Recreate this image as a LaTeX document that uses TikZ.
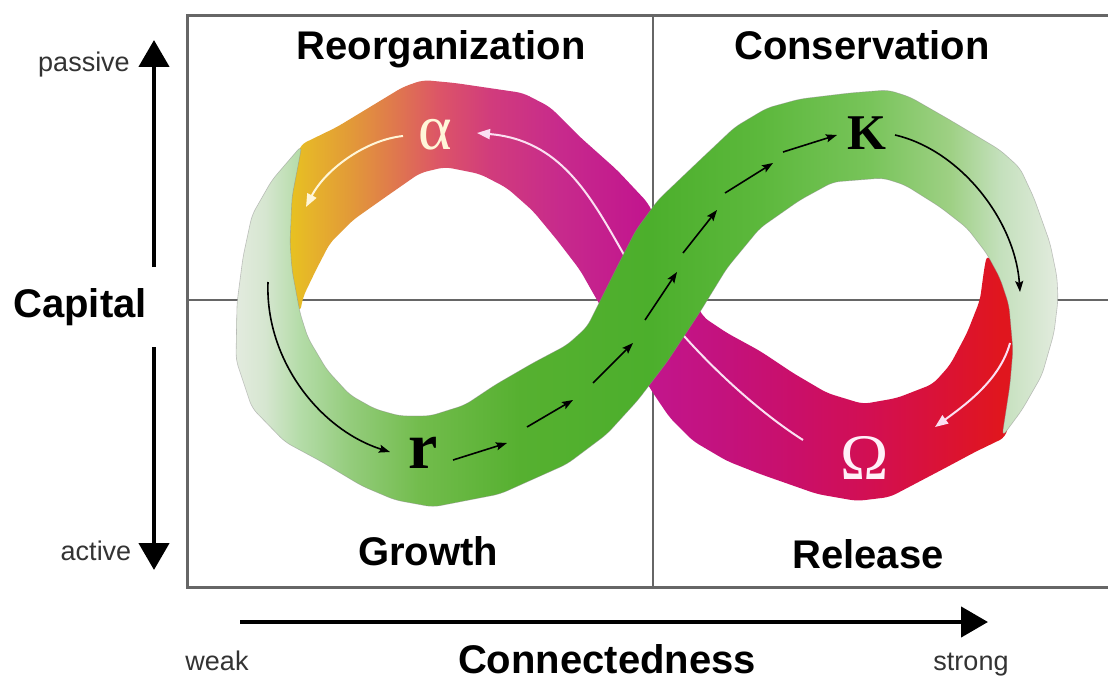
\documentclass[tikz,border=0pt]{standalone}
\usepackage{fontspec}
\setmainfont{Liberation Sans}
\newfontfamily\serifr{Liberation Serif}
\usetikzlibrary{arrows.meta}
% purple/red band colours (left to right)
\definecolor{p01}{HTML}{E8C81C}
\definecolor{p02}{HTML}{E6B42A}
\definecolor{p03}{HTML}{E29A38}
\definecolor{p04}{HTML}{DF7450}
\definecolor{p05}{HTML}{DC5468}
\definecolor{p06}{HTML}{D13C7C}
\definecolor{p07}{HTML}{C72A8C}
\definecolor{p08}{HTML}{C2168E}
\definecolor{p09}{HTML}{C3127E}
\definecolor{p10}{HTML}{CA0F68}
\definecolor{p11}{HTML}{D20F52}
\definecolor{p12}{HTML}{DA1236}
\definecolor{p13}{HTML}{E0161E}
\definecolor{p14}{HTML}{E0161E}
% green band colours (left to right)
\definecolor{g01}{HTML}{E6ECE2}
\definecolor{g02}{HTML}{D6E6D0}
\definecolor{g03}{HTML}{B4DCA8}
\definecolor{g04}{HTML}{94CC7C}
\definecolor{g05}{HTML}{72BC4C}
\definecolor{g06}{HTML}{56B030}
\definecolor{g07}{HTML}{4CAF2C}
\definecolor{g08}{HTML}{5CB83C}
\definecolor{g09}{HTML}{78C45A}
\definecolor{g10}{HTML}{9ED084}
\definecolor{g11}{HTML}{C4E0BC}
\definecolor{g12}{HTML}{E4ECE0}
\definecolor{framegray}{HTML}{666666}
\definecolor{textgray}{HTML}{333333}
\definecolor{pinkwhite}{HTML}{FBE0F2}
\definecolor{omegawhite}{HTML}{FFF0F8}
\definecolor{creamwhite}{HTML}{FFF6D8}
\pgfdeclarehorizontalshading{pshade}{100bp}{color(0bp)=(p01); color(25bp)=(p01); color(26.92bp)=(p02); color(29.49bp)=(p03); color(32.69bp)=(p04); color(35.26bp)=(p05); color(38.46bp)=(p06); color(42.95bp)=(p07); color(48.08bp)=(p08); color(53.21bp)=(p09); color(58.33bp)=(p10); color(62.82bp)=(p11); color(67.31bp)=(p12); color(71.15bp)=(p13); color(75bp)=(p14); color(100bp)=(p14)}
\pgfdeclarehorizontalshading{gshade}{100bp}{color(0bp)=(g01); color(25bp)=(g01); color(27.11bp)=(g02); color(29.22bp)=(g03); color(32.23bp)=(g04); color(36.45bp)=(g05); color(42.47bp)=(g06); color(50.30bp)=(g07); color(56.93bp)=(g08); color(63.55bp)=(g09); color(68.37bp)=(g10); color(71.39bp)=(g11); color(75bp)=(g12); color(100bp)=(g12)}
\tikzset{
  frameline/.style={draw=framegray, line width=3pt},
  divider/.style={draw=framegray, line width=2.5pt},
  axisarrow/.style={line width=4.5pt, -{Triangle[length=27pt,width=30pt]}},
  blackarrow/.style={line width=1.6pt, -{Stealth[length=11pt,width=8pt,inset=2pt]}},
  whitearrow/.style={line width=2pt, -{Triangle[length=13pt,width=10pt]}},
  biglab/.style={font=\fontsize{40}{48}\selectfont\bfseries, anchor=base, inner sep=0pt},
  smalllab/.style={font=\fontsize{27}{32}\selectfont, text=textgray, anchor=base, inner sep=0pt},
  gpath/.style={insert path={(302,145) -- (272,180) -- (252,215) -- (243,257) -- (237,303) -- (236,360) -- (252,408) -- (285,442) -- (322,462) -- (362,486) -- (395,500) -- (433,507) -- (500,494) -- (567,464) -- (607,434) -- (638,400) -- (667,362) -- (700,312) -- (727,268) -- (760,228) -- (800,200) -- (833,182) -- (883,178) -- (905,185) -- (940,207) -- (967,228) -- (987,254) -- (1000,278) -- (1009,305) -- (1013,350) -- (1010,385) -- (1002,437) -- (1022,410) -- (1042,375) -- (1054,333) -- (1058,300) -- (1057,277) -- (1050,243) -- (1034,198) -- (1020,168) -- (1000,150) -- (950,120) -- (910,97) -- (888,90) -- (850,93) -- (800,99) -- (767,108) -- (735,127) -- (700,160) -- (658,200) -- (636,230) -- (617,267) -- (598,305) -- (587,327) -- (567,345) -- (533,363) -- (495,385) -- (465,405) -- (430,416) -- (400,416) -- (375,409) -- (350,395) -- (327,370) -- (308,338) -- (300,313) -- (292,270) -- (290,243) -- (292,197) -- cycle}},
  ppath/.style={insert path={(987,254) -- (1003,278) -- (1013,305) -- (1017,350) -- (1014,385) -- (1006,437) -- (975,452) -- (947,467) -- (890,497) -- (857,501) -- (817,494) -- (760,474) -- (727,461) -- (693,441) -- (670,418) -- (653,393) -- (597,300) -- (580,270) -- (557,240) -- (533,211) -- (507,188) -- (480,174) -- (445,167) -- (420,173) -- (387,196) -- (353,220) -- (330,243) -- (316,270) -- (303,297) -- (300,313) -- (296,303) -- (288,270) -- (286,243) -- (288,197) -- (300,145) -- (337,127) -- (370,107) -- (403,87) -- (423,80) -- (455,83) -- (523,93) -- (550,107) -- (580,137) -- (617,170) -- (648,203) -- (703,317) -- (727,333) -- (760,351) -- (793,373) -- (827,393) -- (863,404) -- (897,398) -- (933,384) -- (950,365) -- (967,333) -- (980,300) -- (984,270) -- cycle}}
}
\begin{document}
\begin{tikzpicture}[x=1pt,y=-1pt]
\clip (0,0) rectangle (1108,682);
\fill[white] (0,0) rectangle (1108,682);
% frame and quadrant lines
\draw[frameline] (187,16) rectangle (1114,587);
\draw[divider] (653,16) -- (653,587);
\draw[divider] (187,300) -- (1114,300);
% purple / red band
\begin{scope}
  \clip[rounded corners=7pt, ppath];
  \shade[shading=pshade] (280,50) rectangle (1060,520);
\end{scope}
% white arrows on the purple band
\coordinate (w1s) at (803,440);
\coordinate (w1m) at (623,253);
\coordinate (w1e) at (477,133);
\draw[whitearrow, pinkwhite] (w1s) .. controls (740,400) and (660,320) .. (w1m) .. controls (590,195) and (560,140) .. (w1e);
\coordinate (w2s) at (403,136);
\coordinate (w2e) at (306,207);
\draw[whitearrow, creamwhite] (w2s) .. controls (365,140) and (325,170) .. (w2e);
\coordinate (w3s) at (1010,343);
\coordinate (w3e) at (935,427);
\draw[whitearrow, pinkwhite] (w3s) .. controls (1000,380) and (965,405) .. (w3e);
% green band
\begin{scope}
  \clip[rounded corners=7pt, gpath];
  \shade[shading=gshade] (230,50) rectangle (1060,520);
\end{scope}
\draw[rounded corners=7pt, gpath, draw=black!45, line width=0.6pt, draw opacity=0.5];
% black arrows on the green band
\coordinate (b1s) at (268,282);
\coordinate (b1e) at (390,452);
\draw[blackarrow] (b1s) .. controls (265,360) and (320,430) .. (b1e);
\coordinate (k1s) at (895,135);
\coordinate (k1e) at (1020,292);
\draw[blackarrow] (k1s) .. controls (960,150) and (1015,220) .. (k1e);
\coordinate (sa1) at (453,460); \coordinate (sa2) at (507,443);
\coordinate (sb1) at (527,427); \coordinate (sb2) at (573,400);
\coordinate (sc1) at (593,383); \coordinate (sc2) at (633,343);
\coordinate (sd1) at (645,320); \coordinate (sd2) at (677,272);
\coordinate (se1) at (683,253); \coordinate (se2) at (717,210);
\coordinate (sf1) at (725,193); \coordinate (sf2) at (773,163);
\coordinate (sg1) at (783,152); \coordinate (sg2) at (837,135);
\foreach \a/\b in {sa1/sa2, sb1/sb2, sc1/sc2, sd1/sd2, se1/se2, sf1/sf2, sg1/sg2}
  \draw[blackarrow] (\a) -- (\b);
% phase letters
\node[inner sep=0pt, font=\serifr\fontsize{66}{70}\selectfont\bfseries] (r) at (423,453) {r};
\node[inner sep=0pt, font=\serifr\fontsize{50}{56}\selectfont\bfseries] (K) at (867,133) {K};
\node[inner sep=0pt, text=creamwhite, font=\serifr\fontsize{64}{68}\selectfont] (alpha) at (435,135) {α};
\node[inner sep=0pt, text=omegawhite, font=\serifr\fontsize{65}{70}\selectfont] (omega) at (865,458) {Ω};
% quadrant labels
\node[biglab] (reorg) at (441,60) {Reorganization};
\node[biglab] (cons) at (862,60) {Conservation};
\node[biglab] (growth) at (428,565) {Growth};
\node[biglab] (release) at (868,568) {Release};
% axes
\node[biglab] (capital) at (80,317) {Capital};
\node[biglab] (connect) at (607,673) {Connectedness};
\node[smalllab] (passive) at (84,72) {passive};
\node[smalllab] (active) at (96,560) {active};
\node[smalllab] (weak) at (217,670) {weak};
\node[smalllab] (strong) at (971,670) {strong};
\coordinate (up0) at (154,267);
\coordinate (up1) at (154,40);
\coordinate (dn0) at (154,347);
\coordinate (dn1) at (154,570);
\coordinate (rt0) at (240,622);
\coordinate (rt1) at (988,622);
\draw[axisarrow] (up0) -- (up1);
\draw[axisarrow] (dn0) -- (dn1);
\draw[axisarrow] (rt0) -- (rt1);
\end{tikzpicture}
\end{document}
